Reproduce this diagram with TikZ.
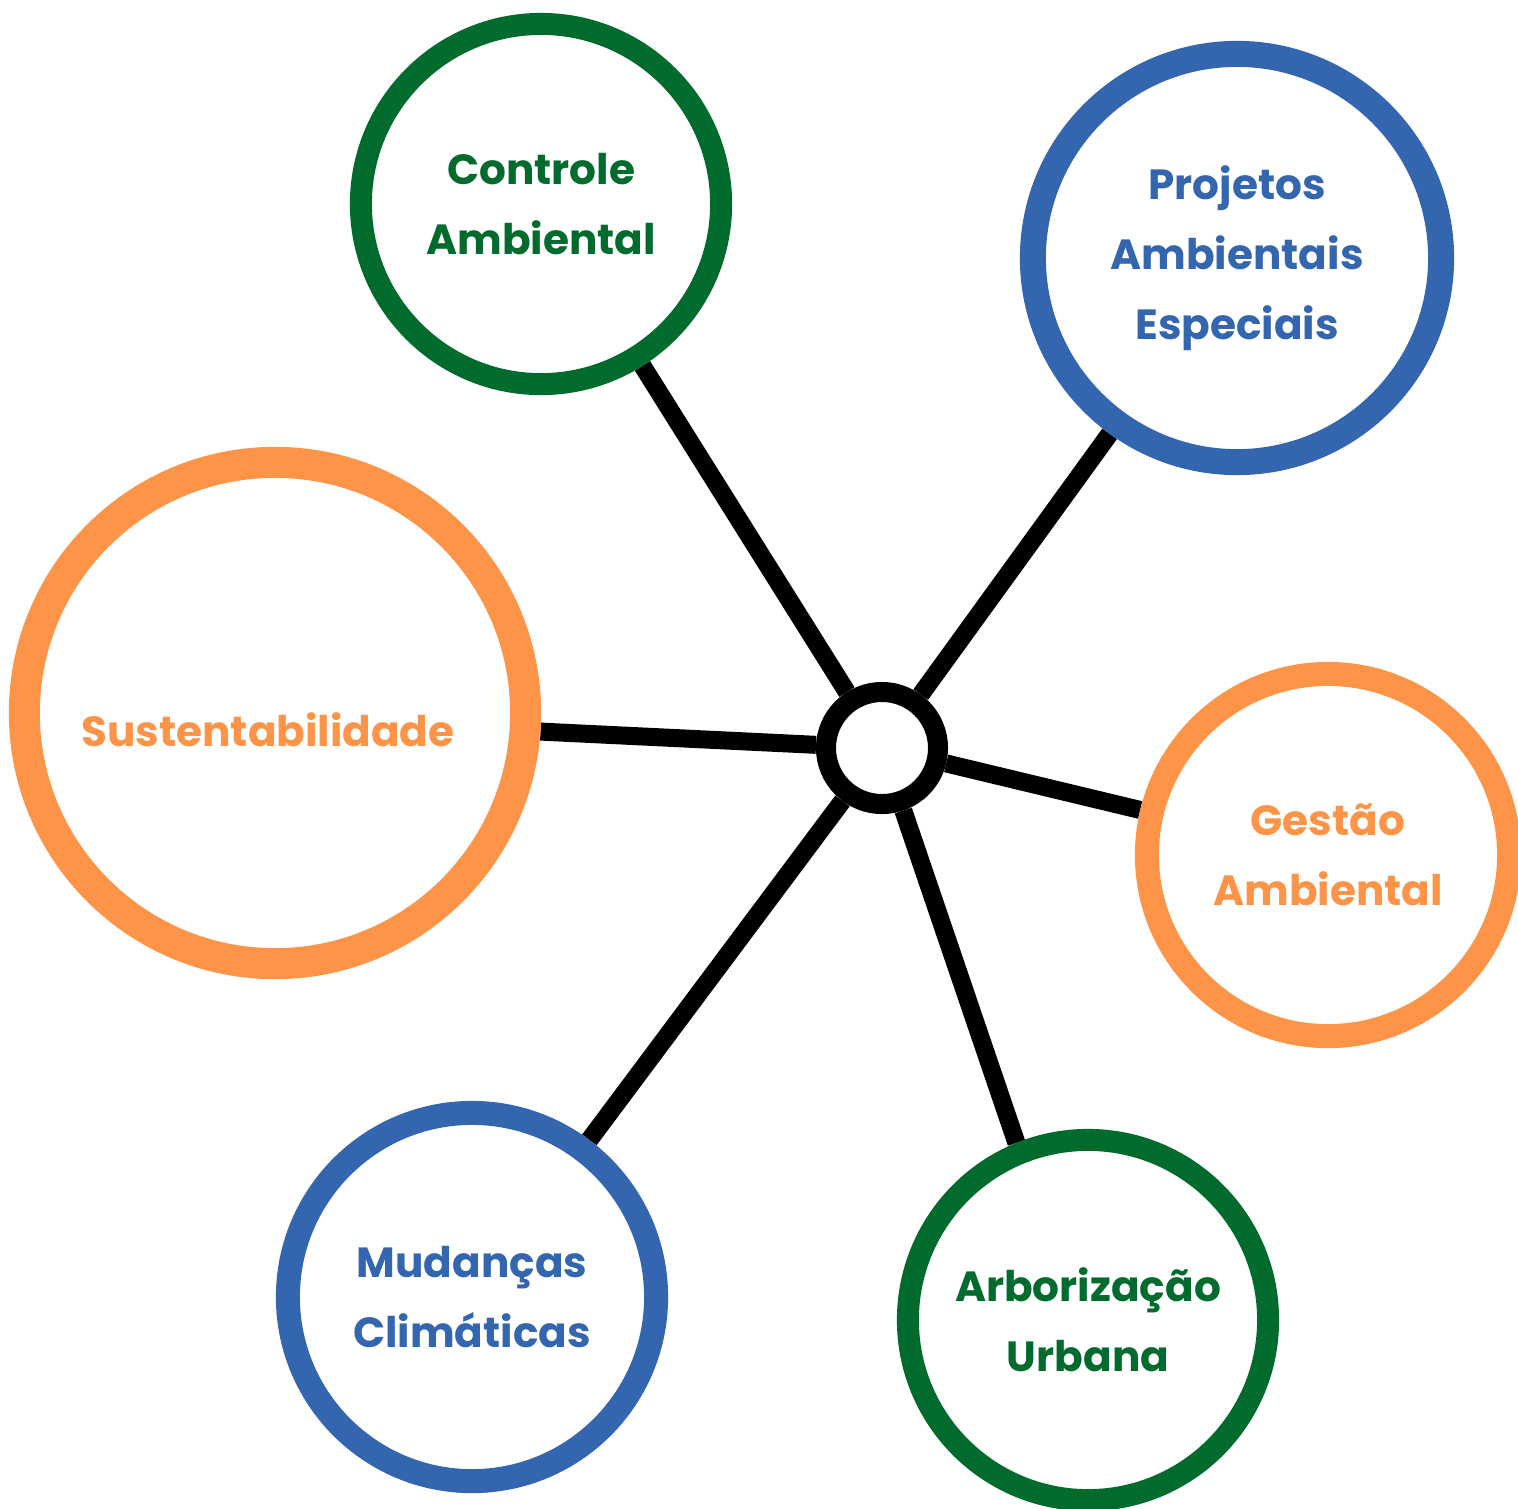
\documentclass[tikz,border=0pt]{standalone}
\usepackage{fontspec}
\setmainfont{Poppins}[BoldFont={* Bold}]
\usetikzlibrary{backgrounds}
\definecolor{verde}{RGB}{0,107,45}
\definecolor{azul}{RGB}{51,102,174}
\definecolor{laranja}{RGB}{253,148,72}
\tikzset{
  area/.style={circle,draw=#1,text=#1,fill=white,inner sep=0pt,align=center,
    font=\fontsize{12}{19.9}\selectfont\bfseries},
  elo/.style={line width=0.18cm,black}
}
\begin{document}
\begin{tikzpicture}[x=0.01cm,y=-0.01cm]
\useasboundingbox (0,0) rectangle (1518,1508);
\node[circle,draw,fill=white,line width=0.20cm,minimum size=1.12cm] (hub) at (882,748) {};
%
\node[area=verde,line width=0.22cm,minimum size=3.60cm] (ctrl) at (541,204) {Controle\\Ambiental};
\node[area=azul,line width=0.26cm,minimum size=4.08cm] (proj) at (1237,258) {Projetos\\Ambientais\\Especiais};
\node[area=laranja,line width=0.31cm,minimum size=5.01cm] (sust) at (275,713) {};
\node[text=laranja,font=\fontsize{12}{19.9}\selectfont\bfseries] (sustlbl) at (268,730) {Sustentabilidade};
\node[area=laranja,line width=0.24cm,minimum size=3.62cm] (gest) at (1328,855) {Gestão\\Ambiental};
\node[area=azul,line width=0.24cm,minimum size=3.68cm] (mud) at (472,1297) {Mudanças\\Climáticas};
\node[area=verde,line width=0.22cm,minimum size=3.60cm] (arb) at (1088,1320) {Arborização\\Urbana};
%
\begin{scope}[on background layer]
\foreach \alvo in {ctrl,proj,gest,mud}
  \draw[elo] (hub) -- (\alvo);
\draw[elo] (hub) -- (sust.-4);
\draw[elo] (hub) -- (arb.112);
\end{scope}
\end{tikzpicture}
\end{document}
